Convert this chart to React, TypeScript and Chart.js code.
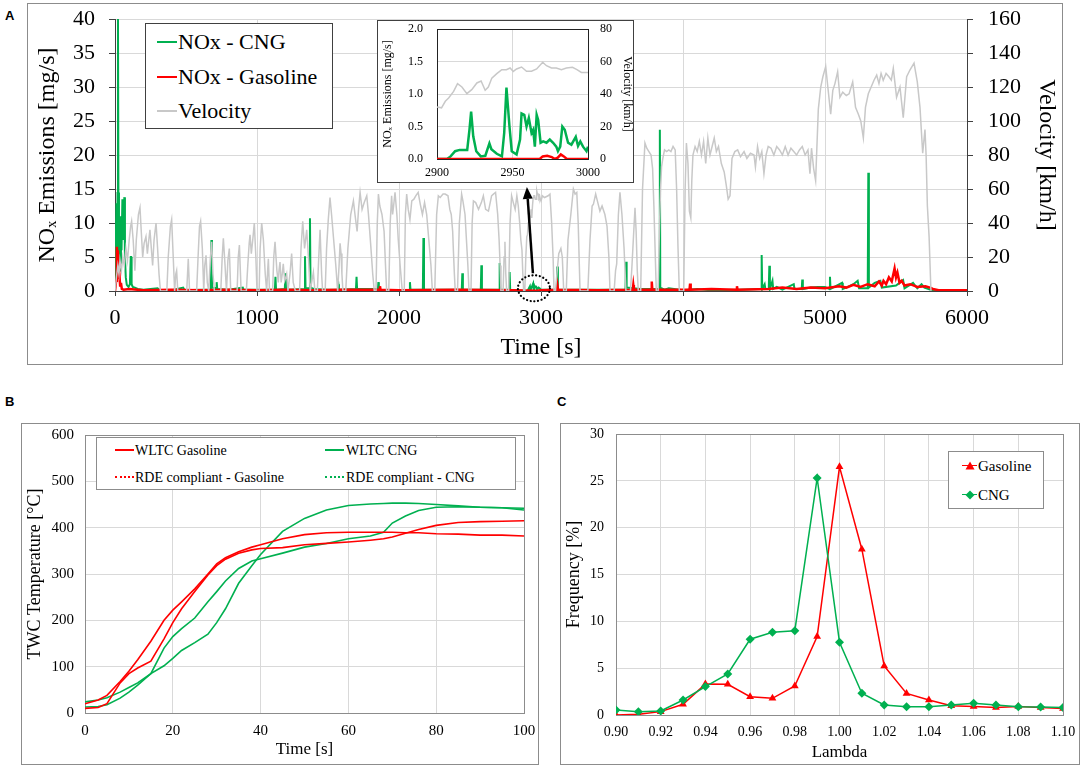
import React, { useEffect, useRef } from 'react';
import { Chart, registerables } from 'chart.js';

Chart.register(...registerables);

const SERIF = '"Liberation Serif", "Times New Roman", serif';
const SANS = '"Liberation Sans", Arial, sans-serif';

const GREEN = '#00B050';
const RED = '#FF0000';
const GRAY_LINE = '#C8C8C8';
const GRID = '#D9D9D9';
const FRAME = '#8C8C8C';
const AXIS_DARK = '#404040';

// ---------------- Panel A: NOx emissions and velocity over the RDE trip ----------------
const velocityTrace: [number, number][] = [
  [0,0],[10,8],[20,15],[28,10],[35,18],[45,12],[55,20],[65,15],[77,25],[88,18],[100,30],[110,38],[117,41],[128,30],[140,12],[150,30],[165,45],[176,49],[185,35],[195,20],[205,28],[218,32],[228,22],[238,30],[246,36],[256,25],[265,15],[275,30],[289,40],[300,25],[310,10],[320,0],[365,0],[375,20],[390,38],[399,42],[410,20],[420,0],[428,10],[434,12],[442,0],[505,0],[516,19],[525,0],[575,0],[585,20],[595,38],[603,41],[615,25],[625,0],[632,15],[641,21],[650,5],[660,0],[672,20],[681,29],[690,10],[700,0],[745,0],[755,20],[763,31],[775,15],[785,0],[795,18],[805,25],[815,0],[860,0],[868,20],[876,27],[888,0],[925,0],[935,15],[945,28],[951,33],[960,22],[970,30],[981,40],[992,20],[1000,0],[1015,0],[1022,25],[1033,40],[1045,30],[1058,10],[1068,0],[1075,12],[1080,19],[1088,0],[1110,0],[1118,20],[1127,29],[1140,12],[1150,5],[1155,12],[1162,17],[1170,5],[1178,10],[1185,16],[1195,6],[1203,8],[1209,10],[1218,0],[1232,10],[1244,22],[1255,5],[1270,0],[1300,0],[1310,25],[1322,41],[1335,25],[1350,36],[1362,20],[1375,0],[1385,5],[1397,11],[1408,0],[1425,0],[1435,20],[1444,36],[1455,10],[1462,0],[1480,0],[1490,25],[1502,42],[1514,55],[1525,45],[1540,30],[1555,15],[1568,0],[1578,15],[1585,28],[1592,22],[1598,10],[1605,0],[1625,0],[1640,25],[1660,45],[1679,53],[1690,45],[1705,35],[1715,48],[1726,58],[1740,48],[1755,52],[1773,56],[1785,45],[1800,28],[1815,10],[1826,0],[1838,0],[1847,40],[1855,57],[1865,50],[1880,45],[1895,35],[1905,15],[1913,0],[1928,0],[1938,40],[1948,56],[1955,45],[1962,50],[1972,58],[1985,45],[1995,30],[2008,15],[2023,0],[2037,0],[2045,45],[2054,57],[2065,48],[2077,42],[2090,53],[2105,54],[2118,56],[2135,58],[2150,51],[2165,45],[2180,52],[2195,45],[2210,30],[2225,15],[2235,0],[2252,0],[2265,45],[2277,56],[2290,55],[2310,57],[2325,57],[2345,56],[2358,48],[2368,45],[2378,35],[2383,24],[2390,10],[2396,0],[2412,0],[2425,40],[2441,57],[2450,53],[2465,45],[2475,30],[2485,15],[2493,0],[2507,0],[2515,40],[2524,53],[2540,52],[2560,48],[2580,52],[2594,56],[2610,48],[2630,47],[2652,56],[2665,57],[2680,58],[2695,45],[2705,30],[2712,15],[2718,0],[2733,0],[2740,20],[2746,29],[2752,10],[2758,0],[2772,0],[2782,40],[2793,56],[2805,52],[2818,48],[2830,56],[2840,50],[2850,40],[2858,30],[2866,24],[2872,10],[2878,0],[2886,0],[2893,20],[2900,32],[2905,33],[2910,40],[2915,46],[2920,42],[2925,44],[2930,48],[2935,43],[2940,50],[2945,55],[2950,56],[2955,56],[2960,54],[2965,54],[2970,59],[2975,57],[2980,57],[2985,55],[2990,56],[2995,54],[3000,53],[3010,56],[3025,55],[3050,56],[3063,57],[3075,40],[3085,20],[3092,0],[3102,0],[3112,10],[3125,22],[3140,25],[3150,20],[3160,0],[3178,0],[3190,30],[3210,45],[3228,60],[3240,57],[3252,58],[3262,40],[3270,15],[3275,0],[3330,0],[3345,30],[3360,50],[3369,51],[3385,57],[3400,52],[3415,47],[3430,50],[3450,45],[3465,38],[3478,20],[3486,0],[3515,0],[3525,12],[3533,16],[3545,45],[3556,58],[3570,45],[3585,25],[3598,0],[3630,0],[3640,14],[3650,30],[3662,49],[3670,35],[3678,12],[3685,0],[3702,0],[3715,60],[3732,87],[3745,84],[3760,82],[3775,80],[3786,72],[3795,50],[3805,20],[3812,0],[3825,0],[3835,40],[3842,60],[3849,73],[3858,78],[3870,83],[3885,82],[3900,83],[3915,82],[3930,85],[3945,83],[3955,60],[3965,25],[3974,0],[4005,0],[4015,60],[4024,87],[4035,75],[4045,47],[4055,43],[4062,65],[4070,80],[4085,85],[4100,82],[4115,88],[4130,80],[4145,88],[4160,75],[4175,90],[4190,80],[4205,85],[4220,90],[4235,82],[4250,85],[4270,75],[4290,70],[4305,62],[4318,54],[4331,56],[4345,78],[4365,82],[4385,83],[4405,79],[4430,82],[4450,78],[4475,81],[4500,80],[4510,73],[4525,85],[4540,78],[4555,82],[4570,69],[4585,80],[4600,85],[4620,84],[4640,80],[4660,85],[4680,83],[4700,80],[4720,85],[4740,80],[4760,84],[4780,82],[4800,80],[4820,83],[4840,85],[4860,80],[4880,83],[4894,69],[4905,84],[4920,72],[4934,65],[4953,107],[4970,120],[4985,126],[5005,132],[5020,120],[5040,104],[5055,118],[5070,122],[5089,129],[5105,114],[5125,117],[5150,115],[5170,116],[5195,123],[5215,108],[5235,104],[5252,100],[5270,90],[5285,108],[5305,116],[5325,120],[5345,124],[5364,127],[5380,122],[5395,128],[5410,124],[5430,128],[5450,126],[5467,124],[5481,131],[5504,114],[5528,120],[5551,102],[5575,126],[5598,130],[5627,134],[5650,123],[5669,108],[5688,81],[5704,95],[5712,80],[5721,50],[5733,32],[5746,0]
];

const noxCngTrace: [number, number][] = [
  [0,0],[10,12.9],[14,3],[18,14.4],[21,40],[24,14.5],[28,4],[33,8.5],[38,3],[42,11],[46,6],[52,13.5],[55,7.5],[60,11],[66,13.8],[70,5],[76,2],[83,0.9],[95,0.6],[105,1],[111,5],[114,5],[117,1],[125,0.6],[140,0.5],[160,0.3],[200,0.2],[250,0.3],[300,0.4],[310,0.2],[400,0.1],[480,0.5],[490,0.1],[600,0.2],[675,0.2],[679,7.5],[683,0.5],[712,0.4],[716,1.3],[720,0.3],[800,0.2],[900,0.5],[905,0.2],[1000,0.2],[1126,0.2],[1130,2.1],[1134,0.2],[1196,0.3],[1200,2.6],[1204,0.4],[1210,0.8],[1215,0.2],[1334,0.3],[1338,5.1],[1342,0.4],[1369,0.4],[1373,10.7],[1377,0.5],[1400,0.3],[1500,0.2],[1569,0.2],[1573,1.0],[1577,0.2],[1697,0.3],[1701,2.1],[1705,0.3],[1852,0.3],[1855,1.3],[1858,0.2],[2000,0.1],[2073,0.2],[2077,1.3],[2081,0.2],[2168,0.2],[2172,7.8],[2176,0.2],[2300,0.2],[2442,0.2],[2446,2.6],[2450,0.2],[2576,0.2],[2580,3.8],[2584,0.2],[2705,0.2],[2709,4.1],[2713,0.2],[2775,0.2],[2779,2.8],[2783,0.2],[2905,0.0],[2922,0.7],[2926,0.1],[2945,1.1],[2950,0.1],[2956,0.7],[2966,0.65],[2972,0.25],[2983,0.5],[2992,0.35],[3000,0.2],[3050,0.2],[3111,0.2],[3115,3.6],[3119,0.2],[3300,0.2],[3595,0.2],[3599,4.3],[3603,0.5],[3700,0.3],[3834,0.3],[3837,23.7],[3840,0.5],[3870,0.2],[3900,0.4],[4000,0.1],[4100,0.3],[4200,0.1],[4400,0.2],[4550,0.3],[4554,5.3],[4558,0.3],[4575,1.0],[4580,0.3],[4604,0.3],[4608,3.7],[4612,0.3],[4630,1.5],[4635,0.3],[4660,0.6],[4700,0.2],[4780,1.0],[4785,0.3],[4836,0.3],[4840,1.7],[4844,0.3],[4900,0.5],[4950,0.6],[5000,0.6],[5031,0.3],[5035,2.1],[5039,0.3],[5120,1.2],[5125,0.3],[5160,0.6],[5200,1.0],[5230,1.5],[5240,0.4],[5301,0.4],[5305,17.4],[5309,0.5],[5350,1.2],[5390,1.5],[5400,0.5],[5500,0.8],[5550,1.6],[5560,0.4],[5620,1.2],[5650,0.4],[5680,1.0],[5700,0.5],[5740,0.2],[5760,0],[6000,0]
];

const noxGasolineTrace: [number, number][] = [
  [0,0],[8,1.5],[13,6.5],[17,3],[20,6],[23,3.6],[27,1.8],[31,2.4],[36,0.8],[42,1.2],[48,0.3],[60,0.2],[100,0.3],[200,0.1],[400,0.2],[600,0.1],[800,0.2],[1000,0.1],[1200,0.2],[1400,0.1],[1600,0.2],[1862,0.2],[1866,0.7],[1870,0.2],[2000,0.1],[2400,0.2],[2800,0.1],[2960,0.02],[2975,0.05],[2983,0.07],[3000,0.1],[3112,0.2],[3116,0.8],[3120,0.2],[3400,0.1],[3646,0.2],[3650,0.9],[3654,0.2],[3776,0.2],[3780,1.4],[3784,0.2],[4046,0.2],[4050,1.1],[4054,0.2],[4200,0.3],[4376,0.2],[4380,0.7],[4384,0.2],[4600,0.3],[4700,0.5],[4800,0.3],[4900,0.5],[5000,0.4],[5100,0.7],[5150,0.5],[5200,0.9],[5250,0.6],[5300,1.0],[5350,0.7],[5380,1.4],[5400,0.8],[5412,1.5],[5430,1.0],[5450,2.0],[5470,1.4],[5490,3.3],[5500,2.0],[5510,2.7],[5525,1.2],[5540,1.5],[5560,0.8],[5600,1.0],[5650,0.6],[5707,0.7],[5740,0.5],[5760,0.3],[5800,0.1],[6000,0.1]
];

const A_TIME_RANGE = [0, 6000];
const A_TIME_STEP = 1000;
const A_NOX_RANGE = [0, 40];
const A_NOX_STEP = 5;
const A_VEL_RANGE = [0, 160];
const A_VEL_STEP = 20;

// inset (2900-3000 s)
const insetVelocity: [number, number][] = [
  [2900,32],[2903,31.5],[2905.5,35.5],[2907.7,37.5],[2911,41.6],[2913.6,46.4],[2916.5,44.3],[2919.8,40.2],[2923,42.7],[2926.4,46.8],[2929.2,48],[2931.9,42.3],[2934,44.3],[2936.3,49.8],[2939.6,52.5],[2942.9,55],[2946,55],[2948.4,56],[2950.5,53.9],[2952.7,55.4],[2956,56.6],[2959.3,54],[2962.6,54],[2966,55.4],[2970,59.5],[2972.5,57.4],[2975.8,56],[2979,56],[2982.4,55],[2985.7,56],[2989.7,56.4],[2992.7,55],[2995.6,53.3],[3000,53.3]
];
const insetCng: [number, number][] = [
  [2900,0],[2906.6,0],[2909,0.04],[2912,0.12],[2915,0.14],[2920,0.14],[2921.5,0.45],[2922.6,0.73],[2924,0.35],[2926,0.12],[2929,0.04],[2932,0.05],[2934.7,0.24],[2936,0.15],[2939.6,0.08],[2943,0.04],[2944.5,0.4],[2946,1.1],[2948,0.5],[2949.5,0.12],[2952.7,0.07],[2955,0.3],[2956,0.7],[2957.8,0.68],[2959.3,0.5],[2960.8,0.63],[2962.6,0.4],[2963.7,0.45],[2964.8,0.19],[2966,0.68],[2967,0.6],[2968.6,0.25],[2970.3,0.27],[2972.5,0.25],[2974.7,0.3],[2976.9,0.25],[2979,0.19],[2980.1,0.12],[2981.6,0.19],[2983,0.5],[2984.6,0.45],[2986.8,0.25],[2989,0.22],[2991.9,0.34],[2993.4,0.2],[2994.9,0.27],[2996.7,0.19],[2999,0.12],[3000,0.19]
];
const insetGasoline: [number, number][] = [
  [2900,0],[2968,0],[2970,0.04],[2973,0.05],[2976,0.03],[2978,0],[2980,0.02],[2982,0.07],[2984,0.04],[2986,0],[3000,0]
];
const INSET_TIME_RANGE = [2900, 3000];
const INSET_NOX_RANGE = [0, 2];
const INSET_VEL_RANGE = [0, 80];

// ---------------- Panel B: TWC temperature ----------------
const bTime = [0, 3, 5, 8, 10, 12, 15, 18, 20, 22, 25, 28, 30, 32, 35, 38, 40, 45, 50, 55, 60, 65, 68, 70, 73, 76, 80, 85, 90, 95, 100];
const twcWltcGasoline = [20, 28, 38, 68, 90, 115, 155, 200, 222, 240, 268, 300, 322, 335, 348, 358, 363, 376, 385, 389, 390, 390, 390, 390, 389, 389, 387, 386, 384, 384, 382];
const twcRdeGasoline = [10, 12, 20, 65, 85, 97, 112, 160, 195, 225, 262, 298, 318, 332, 345, 352, 355, 357, 363, 366, 369, 373, 376, 380, 388, 396, 405, 411, 413, 414, 415];
const twcWltcCng = [13, 14, 18, 32, 45, 60, 85, 102, 118, 135, 152, 170, 195, 225, 280, 318, 342, 392, 420, 438, 448, 451, 452, 453, 453, 452, 450, 447, 444, 443, 438];
const twcRdeCng = [24, 28, 33, 45, 55, 65, 85, 140, 165, 182, 205, 240, 262, 285, 312, 328, 333, 345, 358, 366, 376, 382, 390, 410, 425, 437, 444, 445, 444, 443, 442];

// ---------------- Panel C: lambda distribution ----------------
const lambdaValues = [0.90, 0.91, 0.92, 0.93, 0.94, 0.95, 0.96, 0.97, 0.98, 0.99, 1.00, 1.01, 1.02, 1.03, 1.04, 1.05, 1.06, 1.07, 1.08, 1.09, 1.10];
const freqGasoline = [0, 0.07, 0.36, 1.14, 3.3, 3.28, 1.96, 1.78, 3.1, 8.37, 26.5, 17.7, 5.24, 2.3, 1.6, 1.0, 0.9, 0.8, 0.9, 0.8, 0.7];
const freqCng = [0.53, 0.36, 0.43, 1.6, 3.03, 4.38, 8.09, 8.83, 9.0, 25.3, 7.77, 2.32, 1.07, 0.89, 0.89, 1.07, 1.25, 1.07, 0.89, 0.86, 0.8];

// ---------------- layout boxes (page pixels) ----------------
const A_BOX = { left: 27, top: 3, width: 1036, height: 362 };
const INSET_BOX = { left: 377, top: 20, width: 257, height: 163 };
const B_BOX = { left: 21, top: 423, width: 518, height: 342 };
const C_BOX = { left: 560, top: 423, width: 520, height: 342 };
const FOCUS_TIME = 2950;
const FOCUS_NOX = 0.4;

const pts = (arr: [number, number][]) => arr.map(([x, y]) => ({ x, y }));
const zip = (xs: number[], ys: number[]) => xs.map((x, i) => ({ x, y: ys[i] }));
const serif = (size: number) => ({ family: SERIF, size });

// force an axis thickness and drop the label overhang padding so the plot area lands where intended
const fixWidth = (w: number) => (s: any) => { s.width = w; s.paddingTop = 0; s.paddingBottom = 0; };
const fixHeight = (h: number) => (s: any) => { s.height = h; s.paddingLeft = 0; s.paddingRight = 0; };

const framePlugin = (color: string, width: number) => ({
  id: 'frame',
  beforeDatasetsDraw(chart: any) {
    const { ctx, chartArea: a } = chart;
    ctx.save();
    ctx.strokeStyle = color;
    ctx.lineWidth = width;
    ctx.strokeRect(Math.round(a.left) + 0.5, Math.round(a.top) + 0.5, Math.round(a.right - a.left), Math.round(a.bottom - a.top));
    ctx.restore();
  },
});

const focusPlugin = {
  id: 'focus',
  afterDraw(chart: any) {
    const { ctx } = chart;
    const cx = chart.scales.x.getPixelForValue(FOCUS_TIME);
    const cy = chart.scales.y.getPixelForValue(FOCUS_NOX);
    ctx.save();
    ctx.strokeStyle = '#000';
    ctx.lineWidth = 2.2;
    ctx.lineCap = 'round';
    ctx.setLineDash([0.1, 3.6]);
    ctx.beginPath();
    ctx.ellipse(cx, cy, 16, 13, 0, 0, Math.PI * 2);
    ctx.stroke();
    ctx.setLineDash([]);
    ctx.lineCap = 'butt';
    const x0 = cx - 1, y0 = cy - 15;
    const x1 = cx - 7, y1 = INSET_BOX.top + INSET_BOX.height - A_BOX.top + 4;
    const ang = Math.atan2(y1 - y0, x1 - x0);
    const head = 12, hw = 5;
    const bx = x1 - head * Math.cos(ang), by = y1 - head * Math.sin(ang);
    ctx.lineWidth = 2.5;
    ctx.beginPath();
    ctx.moveTo(x0, y0);
    ctx.lineTo(bx, by);
    ctx.stroke();
    ctx.beginPath();
    ctx.moveTo(x1, y1);
    ctx.lineTo(bx + hw * Math.sin(ang), by - hw * Math.cos(ang));
    ctx.lineTo(bx - hw * Math.sin(ang), by + hw * Math.cos(ang));
    ctx.closePath();
    ctx.fillStyle = '#000';
    ctx.fill();
    ctx.restore();
  },
};

const baseOptions = {
  animation: false,
  responsive: false,
  maintainAspectRatio: false,
  devicePixelRatio: 1,
  events: [],
  plugins: { legend: { display: false }, tooltip: { enabled: false } },
  elements: { line: { tension: 0 }, point: { radius: 0 } },
};

function makeA(): any {
  return {
    type: 'line',
    data: {
      datasets: [
        { label: 'Velocity', data: pts(velocityTrace), yAxisID: 'yV', borderColor: GRAY_LINE, borderWidth: 1.5, pointRadius: 0, order: 0 },
        { label: 'NOx - Gasoline', data: pts(noxGasolineTrace), yAxisID: 'y', borderColor: RED, borderWidth: 2.5, pointRadius: 0, order: 1 },
        { label: 'NOx - CNG', data: pts(noxCngTrace), yAxisID: 'y', borderColor: GREEN, borderWidth: 2, pointRadius: 0, order: 2 },
      ],
    },
    options: {
      ...baseOptions,
      layout: { padding: { top: 16, left: 0, right: 0, bottom: 0 } },
      scales: {
        x: {
          type: 'linear', min: A_TIME_RANGE[0], max: A_TIME_RANGE[1],
          ticks: { stepSize: A_TIME_STEP, font: serif(22), color: '#000', padding: 9, maxRotation: 0, autoSkip: false, callback: (v: number) => String(v) },
          grid: { color: GRID, tickColor: AXIS_DARK, tickLength: 5 },
          border: { color: AXIS_DARK, width: 1 },
          title: { display: true, text: 'Time [s]', font: serif(24), color: '#000', padding: { top: 0, bottom: 3 } },
          afterFit: fixHeight(74),
        },
        y: {
          position: 'left', min: A_NOX_RANGE[0], max: A_NOX_RANGE[1],
          ticks: { stepSize: A_NOX_STEP, font: serif(22), color: '#000', padding: 14, callback: (v: number) => String(v) },
          grid: { color: GRID, tickColor: AXIS_DARK, tickLength: 6 },
          border: { color: AXIS_DARK, width: 1 },
          title: { display: true, text: 'NOₓ Emissions [mg/s]', font: serif(24), color: '#000', padding: { top: 6, bottom: 0 } },
          afterFit: fixWidth(88),
        },
        yV: {
          position: 'right', min: A_VEL_RANGE[0], max: A_VEL_RANGE[1],
          ticks: { stepSize: A_VEL_STEP, font: serif(22), color: '#000', padding: 15, callback: (v: number) => String(v) },
          grid: { drawOnChartArea: false, tickColor: AXIS_DARK, tickLength: 6 },
          border: { color: AXIS_DARK, width: 1 },
          title: { display: true, text: 'Velocity [km/h]', font: serif(24), color: '#000', padding: { top: 2, bottom: 0 } },
          afterFit: fixWidth(96),
        },
      },
    },
    plugins: [focusPlugin],
  };
}

function makeInset(): any {
  return {
    type: 'line',
    data: {
      datasets: [
        { label: 'Velocity', data: pts(insetVelocity), yAxisID: 'yV', borderColor: GRAY_LINE, borderWidth: 1.5, pointRadius: 0, order: 2 },
        { label: 'NOx - Gasoline', data: pts(insetGasoline), yAxisID: 'y', borderColor: RED, borderWidth: 2.5, pointRadius: 0, order: 0 },
        { label: 'NOx - CNG', data: pts(insetCng), yAxisID: 'y', borderColor: GREEN, borderWidth: 2.5, pointRadius: 0, order: 1 },
      ],
    },
    options: {
      ...baseOptions,
      layout: { padding: { top: 9, left: 0, right: 0, bottom: 0 } },
      scales: {
        x: {
          type: 'linear', min: INSET_TIME_RANGE[0], max: INSET_TIME_RANGE[1],
          ticks: { stepSize: 50, font: serif(12), color: '#000', padding: 7, maxRotation: 0, autoSkip: false, callback: (v: number) => String(v) },
          grid: { color: GRID, drawTicks: false },
          border: { display: false },
          afterFit: fixHeight(24),
        },
        y: {
          position: 'left', min: INSET_NOX_RANGE[0], max: INSET_NOX_RANGE[1],
          ticks: { stepSize: 0.5, font: serif(12), color: '#000', padding: 14, callback: (v: number) => v.toFixed(1) },
          grid: { color: GRID, drawTicks: false },
          border: { display: false },
          title: { display: true, text: 'NOₓ Emissions [mg/s]', font: serif(12), color: '#000', padding: { top: 4, bottom: 0 } },
          afterFit: fixWidth(60),
        },
        yV: {
          position: 'right', min: INSET_VEL_RANGE[0], max: INSET_VEL_RANGE[1],
          ticks: { stepSize: 20, font: serif(12), color: '#000', padding: 12, callback: (v: number) => String(v) },
          grid: { drawOnChartArea: false, drawTicks: false },
          border: { display: false },
          title: { display: true, text: 'Velocity [km/h]', font: serif(12), color: '#000', padding: { top: 0, bottom: 0 } },
          afterFit: fixWidth(46),
        },
      },
    },
    plugins: [framePlugin('#222', 1)],
  };
}

function makeB(): any {
  const line = (label: string, ys: number[], color: string) => ({
    label, data: zip(bTime, ys), borderColor: color, borderWidth: 1.6, pointRadius: 0,
  });
  return {
    type: 'line',
    data: {
      datasets: [
        line('WLTC Gasoline', twcWltcGasoline, RED),
        line('RDE compliant - Gasoline', twcRdeGasoline, RED),
        line('WLTC CNG', twcWltcCng, GREEN),
        line('RDE compliant - CNG', twcRdeCng, GREEN),
      ],
    },
    options: {
      ...baseOptions,
      layout: { padding: { top: 12, left: 0, right: 15, bottom: 0 } },
      scales: {
        x: {
          type: 'linear', min: 0, max: 100,
          ticks: { stepSize: 20, font: serif(15), color: '#000', padding: 9, maxRotation: 0, autoSkip: false },
          grid: { color: GRID, drawTicks: false },
          border: { display: false },
          title: { display: true, text: 'Time [s]', font: serif(17), color: '#000', padding: { top: 0, bottom: 5 } },
          afterFit: fixHeight(52),
        },
        y: {
          min: 0, max: 600,
          ticks: { stepSize: 100, font: serif(15), color: '#000', padding: 11 },
          grid: { color: GRID, drawTicks: false },
          border: { display: false },
          title: { display: true, text: 'TWC Temperature [°C]', font: serif(18), color: '#000', padding: { top: 3, bottom: 0 } },
          afterFit: fixWidth(64),
        },
      },
    },
    plugins: [framePlugin(FRAME, 1)],
  };
}

function makeC(): any {
  return {
    type: 'line',
    data: {
      datasets: [
        { label: 'Gasoline', data: zip(lambdaValues, freqGasoline), borderColor: RED, backgroundColor: RED, borderWidth: 1.5, pointStyle: 'triangle', pointRadius: 4.5, pointBorderWidth: 0, order: 1 },
        { label: 'CNG', data: zip(lambdaValues, freqCng), borderColor: GREEN, backgroundColor: GREEN, borderWidth: 1.5, pointStyle: 'rectRot', pointRadius: 4.5, pointBorderWidth: 0, order: 0 },
      ],
    },
    options: {
      ...baseOptions,
      layout: { padding: { top: 11, left: 0, right: 17, bottom: 0 } },
      scales: {
        x: {
          type: 'linear', min: 0.9, max: 1.1,
          ticks: { stepSize: 0.02, font: serif(14), color: '#000', padding: 9, maxRotation: 0, autoSkip: false, callback: (v: number) => v.toFixed(2) },
          grid: { color: GRID, drawTicks: false },
          border: { display: false },
          title: { display: true, text: 'Lambda', font: serif(17), color: '#000', padding: { top: 0, bottom: 2 } },
          afterFit: fixHeight(50),
        },
        y: {
          min: 0, max: 30,
          ticks: { stepSize: 5, font: serif(14), color: '#000', padding: 12 },
          grid: { color: GRID, drawTicks: false },
          border: { display: false },
          title: { display: true, text: 'Frequency [%]', font: serif(18), color: '#000', padding: { top: 3, bottom: 0 } },
          afterFit: fixWidth(56),
        },
      },
    },
    plugins: [framePlugin(FRAME, 1)],
  };
}

type Box = { left: number; top: number; width: number; height: number };

function ChartCanvas({ box, make }: { box: Box; make: () => any }) {
  const ref = useRef<HTMLCanvasElement | null>(null);
  useEffect(() => {
    if (!ref.current) return;
    const chart = new Chart(ref.current, make());
    return () => chart.destroy();
  }, []);
  return (
    <canvas
      ref={ref}
      width={box.width}
      height={box.height}
      style={{ position: 'absolute', left: box.left, top: box.top, width: box.width, height: box.height, display: 'block' }}
    />
  );
}

function Frame({ box, color }: { box: Box; color: string }) {
  return (
    <div style={{ position: 'absolute', left: box.left, top: box.top, width: box.width, height: box.height, border: `1px solid ${color}`, boxSizing: 'border-box', background: '#fff' }} />
  );
}

function Txt({ x, y, size, children, family = SERIF, weight = 400 }: { x: number; y: number; size: number; children: React.ReactNode; family?: string; weight?: number }) {
  const lh = Math.round(size * 1.2);
  return (
    <div style={{ position: 'absolute', left: x, top: y - lh / 2, height: lh, lineHeight: `${lh}px`, fontSize: size, fontFamily: family, fontWeight: weight, color: '#000', whiteSpace: 'nowrap' }}>
      {children}
    </div>
  );
}

function Sample({ x1, x2, y, color, width, dotted = false }: { x1: number; x2: number; y: number; color: string; width: number; dotted?: boolean }) {
  return (
    <div style={{ position: 'absolute', left: x1, top: y - width / 2, width: x2 - x1, height: 0, borderTop: `${width}px ${dotted ? 'dotted' : 'solid'} ${color}` }} />
  );
}

function Marker({ x, y, color, shape }: { x: number; y: number; color: string; shape: 'tri' | 'dia' }) {
  const p = shape === 'tri' ? '5,0.5 9.5,8.5 0.5,8.5' : '5,0.5 9.5,5 5,9.5 0.5,5';
  return (
    <svg width={10} height={10} style={{ position: 'absolute', left: x - 5, top: y - (shape === 'tri' ? 5.5 : 5) }}>
      <polygon points={p} fill={color} />
    </svg>
  );
}

export default function App() {
  return (
    <div style={{ position: 'fixed', left: 0, top: 0, width: 1084, height: 768, background: '#fff', overflow: 'hidden' }}>
      {/* Panel A */}
      <Txt x={5} y={16} size={13} family={SANS} weight={700}>A</Txt>
      <Frame box={A_BOX} color="#8C8C8C" />
      <ChartCanvas box={A_BOX} make={makeA} />
      <div style={{ position: 'absolute', left: 145, top: 23, width: 188, height: 106, border: `1px solid ${AXIS_DARK}`, boxSizing: 'border-box', background: '#fff' }} />
      <Sample x1={157} x2={177} y={42} color={GREEN} width={2} />
      <Txt x={178} y={42} size={22}>NOx - CNG</Txt>
      <Sample x1={157} x2={177} y={77} color={RED} width={2} />
      <Txt x={178} y={77} size={22}>NOx - Gasoline</Txt>
      <Sample x1={157} x2={177} y={111} color={GRAY_LINE} width={2} />
      <Txt x={178} y={111} size={22}>Velocity</Txt>
      <div style={{ position: 'absolute', left: INSET_BOX.left, top: INSET_BOX.top, width: INSET_BOX.width, height: INSET_BOX.height, border: `1px solid ${AXIS_DARK}`, boxSizing: 'border-box', background: '#fff' }} />
      <ChartCanvas box={INSET_BOX} make={makeInset} />

      {/* Panel B */}
      <Txt x={5} y={402} size={13} family={SANS} weight={700}>B</Txt>
      <Frame box={B_BOX} color={FRAME} />
      <ChartCanvas box={B_BOX} make={makeB} />
      <div style={{ position: 'absolute', left: 96, top: 437, width: 420, height: 53, border: `1px solid ${FRAME}`, boxSizing: 'border-box', background: '#fff' }} />
      <Sample x1={115} x2={134} y={450} color={RED} width={2} />
      <Txt x={135} y={450} size={14}>WLTC Gasoline</Txt>
      <Sample x1={325} x2={344} y={450} color={GREEN} width={2} />
      <Txt x={346} y={450} size={14}>WLTC CNG</Txt>
      <Sample x1={115} x2={134} y={477} color={RED} width={2} dotted />
      <Txt x={135} y={477} size={14}>RDE compliant - Gasoline</Txt>
      <Sample x1={325} x2={344} y={477} color={GREEN} width={2} dotted />
      <Txt x={346} y={477} size={14}>RDE compliant - CNG</Txt>

      {/* Panel C */}
      <Txt x={557} y={402} size={13} family={SANS} weight={700}>C</Txt>
      <Frame box={C_BOX} color={FRAME} />
      <ChartCanvas box={C_BOX} make={makeC} />
      <div style={{ position: 'absolute', left: 948, top: 451, width: 96, height: 58, border: `1px solid ${FRAME}`, boxSizing: 'border-box', background: '#fff' }} />
      <Sample x1={962} x2={977} y={466} color={RED} width={1.5} />
      <Marker x={969.5} y={466} color={RED} shape="tri" />
      <Txt x={978} y={466} size={15}>Gasoline</Txt>
      <Sample x1={962} x2={977} y={495} color={GREEN} width={1.5} />
      <Marker x={969.5} y={495} color={GREEN} shape="dia" />
      <Txt x={978} y={495} size={15}>CNG</Txt>
    </div>
  );
}
